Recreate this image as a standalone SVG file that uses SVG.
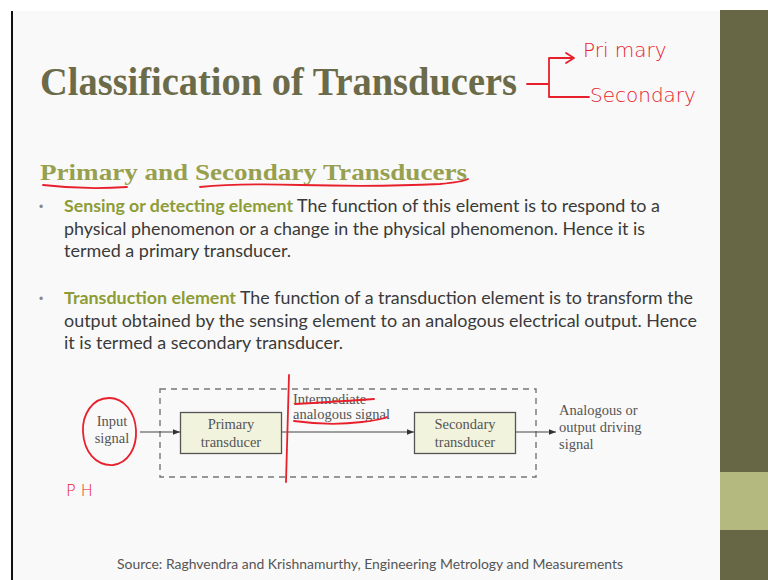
<svg xmlns="http://www.w3.org/2000/svg" width="768" height="580" viewBox="0 0 768 580">
  <style>
    .title { font-family: "Liberation Serif", "DejaVu Serif", serif; font-weight: bold; fill: #6b6b4a; }
    .sub { font-family: "Liberation Serif", "DejaVu Serif", serif; font-weight: bold; fill: #97a04f; }
    .body { font-family: "Lato", "Liberation Sans", sans-serif; font-size: 17px; fill: #3a3a3a; }
    .key { font-weight: bold; fill: #8d9c35; }
    .bullet { font-family: "Liberation Sans", sans-serif; font-size: 12px; fill: #888; }
    .diag { font-family: "Liberation Serif", "Times New Roman", serif; font-size: 14.5px; fill: #555; }
    .box { fill: #f2f3dd; stroke: #555; stroke-width: 1.3; }
    .frame { fill: none; stroke: #777; stroke-width: 1.4; stroke-dasharray: 6 5; }
    .wire { fill: none; stroke: #444; stroke-width: 1.1; }
    .ink { fill: none; stroke: #e8202c; stroke-width: 1.8; stroke-linecap: round; stroke-linejoin: round; }
    .hand { font-family: "DejaVu Sans", sans-serif; font-weight: 300; fill: #e8202c; }
    .source { font-family: "Lato", "Liberation Sans", sans-serif; font-size: 13px; fill: #555; }
  </style>
  <defs>
    <marker id="arrow" viewBox="0 0 10 10" refX="10" refY="5" markerWidth="7" markerHeight="7" orient="auto" markerUnits="userSpaceOnUse">
      <path d="M0,1 L10,5 L0,9 Z" fill="#333"/>
    </marker>
  </defs>

  <!-- page and slide frame -->
  <rect x="0" y="0" width="768" height="580" fill="#ffffff"/>
  <rect x="12" y="11" width="708" height="569" fill="#f9f9f9"/>
  <line x1="12" y1="11" x2="12" y2="580" stroke="#111" stroke-width="2"/>
  <rect x="720" y="10" width="48" height="570" fill="#676746"/>
  <rect x="720" y="472" width="48" height="58" fill="#b3b97f"/>

  <!-- headings -->
  <text class="title" x="40" y="95" font-size="40" textLength="477" lengthAdjust="spacingAndGlyphs">Classification of Transducers</text>
  <text class="sub" x="40" y="180" font-size="24" textLength="427" lengthAdjust="spacingAndGlyphs">Primary and Secondary Transducers</text>

  <!-- bullet text -->
  <text class="bullet" x="39" y="211">•</text>
  <text class="body" y="212">
    <tspan class="key" x="64" textLength="229" lengthAdjust="spacingAndGlyphs">Sensing or detecting element</tspan>
    <tspan x="297" textLength="363" lengthAdjust="spacingAndGlyphs">The function of this element is to respond to a</tspan>
  </text>
  <text class="body" x="64" y="235" textLength="581" lengthAdjust="spacingAndGlyphs">physical phenomenon or a change in the physical phenomenon. Hence it is</text>
  <text class="body" x="64" y="257" textLength="227" lengthAdjust="spacingAndGlyphs">termed a primary transducer.</text>

  <text class="bullet" x="39" y="303">•</text>
  <text class="body" y="304">
    <tspan class="key" x="64" textLength="172" lengthAdjust="spacingAndGlyphs">Transduction element</tspan>
    <tspan x="240" textLength="453" lengthAdjust="spacingAndGlyphs">The function of a transduction element is to transform the</tspan>
  </text>
  <text class="body" x="64" y="327" textLength="633" lengthAdjust="spacingAndGlyphs">output obtained by the sensing element to an analogous electrical output. Hence</text>
  <text class="body" x="64" y="349" textLength="279" lengthAdjust="spacingAndGlyphs">it is termed a secondary transducer.</text>

  <!-- block diagram -->
  <g id="transducer-boundary">
    <rect class="frame" x="160" y="389" width="376" height="88"/>
  </g>
  <g id="input-signal">
    <text class="diag" text-anchor="middle" x="112" y="426">Input</text>
    <text class="diag" text-anchor="middle" x="112" y="443">signal</text>
  </g>
  <g id="primary-transducer">
    <rect class="box" x="180.5" y="412.5" width="101" height="41"/>
    <text class="diag" text-anchor="middle" x="231" y="429">Primary</text>
    <text class="diag" text-anchor="middle" x="231" y="447">transducer</text>
  </g>
  <g id="intermediate-signal">
    <text class="diag" x="293" y="404">Intermediate</text>
    <text class="diag" x="293" y="419">analogous signal</text>
  </g>
  <g id="secondary-transducer">
    <rect class="box" x="414.5" y="412.5" width="101" height="41"/>
    <text class="diag" text-anchor="middle" x="465" y="429">Secondary</text>
    <text class="diag" text-anchor="middle" x="465" y="447">transducer</text>
  </g>
  <g id="output-signal">
    <text class="diag" x="559" y="415">Analogous or</text>
    <text class="diag" x="559" y="432">output driving</text>
    <text class="diag" x="559" y="449">signal</text>
  </g>
  <g id="connectors">
    <line class="wire" x1="140" y1="432" x2="180" y2="432" marker-end="url(#arrow)"/>
    <line class="wire" x1="282" y1="432" x2="414" y2="432" marker-end="url(#arrow)"/>
    <line class="wire" x1="516" y1="432" x2="556" y2="432" marker-end="url(#arrow)"/>
  </g>

  <!-- red pen annotations -->
  <g id="annotations">
    <path class="ink" d="M527,84 L548,84 M549,58 L549,97 M549,58 L573,58 M566,53 L574,58 L566,63 M549,97 L589,97"/>
    <text class="hand" x="583" y="57" font-size="20">Pri mary</text>
    <text class="hand" x="590" y="102" font-size="20">Secondary</text>
    <path class="ink" d="M43,185 Q85,190 127,187"/>
    <path class="ink" d="M200,187 Q240,183 300,185 Q380,187 440,184 Q462,182 468,179"/>
    <path class="ink" d="M109,398 C92,398 82,415 83,432 C84,452 96,466 113,465 C128,463 137,448 136,430 C135,412 124,398 109,398 Z"/>
    <path class="ink" d="M289,375 L286,482"/>
    <path class="ink" d="M295,404 Q330,402 374,399"/>
    <path class="ink" d="M294,421 Q330,426 362,422 Q380,420 387,417"/>
    <text class="hand" x="66" y="496" font-size="16">P H</text>
  </g>

  <text class="source" x="117" y="569" textLength="506" lengthAdjust="spacingAndGlyphs">Source: Raghvendra and Krishnamurthy, Engineering Metrology and Measurements</text>
</svg>
